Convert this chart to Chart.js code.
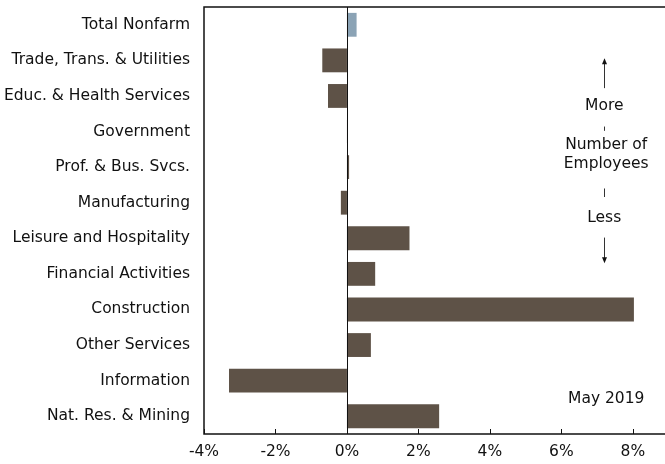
<!DOCTYPE html>
<html>
<head>
<meta charset="utf-8">
<script src="https://cdn.jsdelivr.net/npm/chart.js@4.4.0/dist/chart.umd.min.js"></script>
<style>
  html, body { margin: 0; padding: 0; background: #fff; }
  #wrap { width: 665px; height: 464px; }
</style>
</head>
<body>
<div id="wrap"><canvas id="empChart" width="665" height="464"></canvas></div>
<script>
// Industry categories, top to bottom
const industries = [
    "Total Nonfarm",
    "Trade, Trans. & Utilities",
    "Educ. & Health Services",
    "Government",
    "Prof. & Bus. Svcs.",
    "Manufacturing",
    "Leisure and Hospitality",
    "Financial Activities",
    "Construction",
    "Other Services",
    "Information",
    "Nat. Res. & Mining"
];

// Percent change in employment
const pctChange = [0.27, -0.69, -0.53, 0.03, 0.06, -0.17, 1.75, 0.79, 8.03, 0.67, -3.30, 2.58];

const xTicks = [-4, -2, 0, 2, 4, 6, 8];
const periodLabel = "May 2019";

const brown = "#5e5247";
const steel = "#8ba3b5";
const textColor = "#111";
const fontFamily = "'DejaVu Sans', Verdana, sans-serif";
const fontSize = 15.5;

// frame, zero line, inward ticks and the side notes
const decorPlugin = {
    id: "decor",
    afterDatasetsDraw(chart) {
        const { ctx, chartArea: a, scales } = chart;
        const x = scales.x;
        ctx.save();
        ctx.strokeStyle = "#111";
        ctx.lineWidth = 1.5;
        ctx.beginPath();
        ctx.moveTo(a.right + 2, a.top);
        ctx.lineTo(a.left, a.top);
        ctx.lineTo(a.left, a.bottom);
        ctx.lineTo(a.right + 2, a.bottom);
        ctx.stroke();

        // zero line
        const x0 = Math.round(x.getPixelForValue(0)) + 0.5;
        ctx.lineWidth = 1;
        ctx.beginPath();
        ctx.moveTo(x0, a.top);
        ctx.lineTo(x0, a.bottom);
        ctx.stroke();

        // tick marks pointing into the plot
        xTicks.forEach(v => {
            const px = Math.round(x.getPixelForValue(v)) + 0.5;
            ctx.beginPath();
            ctx.moveTo(px, a.bottom);
            ctx.lineTo(px, a.bottom - 5);
            ctx.stroke();
        });

        // "More / Number of Employees / Less" note
        const cx = x.getPixelForValue(7.2);
        const h = a.bottom - a.top;
        const yAt = f => a.top + h * f;
        ctx.fillStyle = textColor;
        ctx.font = fontSize + "px " + fontFamily;
        ctx.textAlign = "center";
        ctx.textBaseline = "middle";
        ctx.fillText("More", cx, yAt(0.232));
        ctx.fillText("Number of", cx + 2, yAt(0.323));
        ctx.fillText("Employees", cx + 2, yAt(0.367));
        ctx.fillText("Less", cx, yAt(0.494));
        ctx.fillText(periodLabel, cx + 2, yAt(0.918));

        ctx.strokeStyle = "#333";
        ctx.lineWidth = 1;
        const px = Math.round(cx) + 0.5;
        const line = (y1, y2) => {
            ctx.beginPath();
            ctx.moveTo(px, yAt(y1));
            ctx.lineTo(px, yAt(y2));
            ctx.stroke();
        };
        line(0.125, 0.19);
        line(0.28, 0.29);
        line(0.425, 0.445);
        line(0.54, 0.595);

        // arrow heads
        ctx.fillStyle = "#111";
        const head = (yTip, dir) => {
            ctx.beginPath();
            ctx.moveTo(px, yTip);
            ctx.lineTo(px - 2.5, yTip + dir * 6);
            ctx.lineTo(px + 2.5, yTip + dir * 6);
            ctx.closePath();
            ctx.fill();
        };
        head(yAt(0.12), 1);
        head(yAt(0.6), -1);
        ctx.restore();
    }
};

const ctx = document.getElementById("empChart").getContext("2d");
new Chart(ctx, {
    type: "bar",
    data: {
        labels: industries,
        datasets: [{
            data: pctChange,
            backgroundColor: industries.map((_, i) => i === 0 ? steel : brown),
            borderWidth: 0,
            barPercentage: 0.67,
            categoryPercentage: 1.0
        }]
    },
    options: {
        indexAxis: "y",
        responsive: false,
        animation: false,
        layout: { padding: { top: 7, right: 0, left: 0, bottom: 0 } },
        plugins: {
            legend: { display: false },
            tooltip: { enabled: false }
        },
        scales: {
            x: {
                type: "linear",
                min: -4,
                max: 8.9,
                afterBuildTicks: scale => {
                    scale.ticks = xTicks.map(v => ({ value: v }));
                },
                afterFit: scale => {
                    scale.height = 30;
                    scale.paddingLeft = 0;
                    scale.paddingRight = 0;
                },
                grid: { display: false, drawTicks: false },
                border: { display: false },
                ticks: {
                    padding: 9,
                    color: textColor,
                    font: { family: fontFamily, size: fontSize },
                    callback: v => v + "%",
                    maxRotation: 0
                }
            },
            y: {
                type: "category",
                afterFit: scale => {
                    scale.width = 204;
                    scale.paddingTop = 0;
                    scale.paddingBottom = 0;
                },
                grid: { display: false, drawTicks: false },
                border: { display: false },
                ticks: {
                    padding: 14,
                    color: textColor,
                    font: { family: fontFamily, size: fontSize }
                }
            }
        }
    },
    plugins: [decorPlugin]
});
</script>
</body>
</html>
